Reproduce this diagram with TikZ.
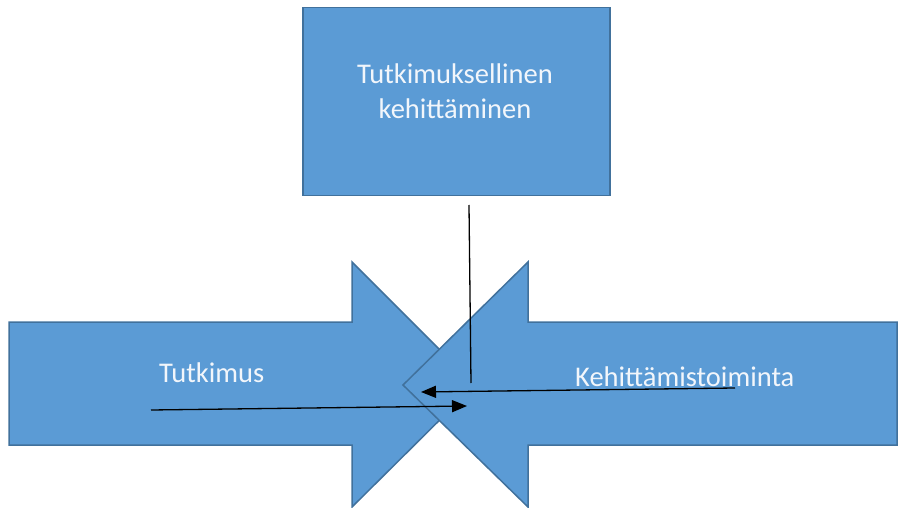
\documentclass[tikz,border=0pt]{standalone}
\usepackage{fontspec}
\setmainfont{Carlito}
\usetikzlibrary{arrows.meta}
\definecolor{officeblue}{HTML}{5B9BD5}
\definecolor{officeedge}{HTML}{41719C}
\definecolor{labelwhite}{HTML}{F2F6FB}
\tikzset{
  shapefill/.style={fill=officeblue, draw=officeedge, line width=1.5pt, line join=miter},
  lbl/.style={text=labelwhite, font=\fontsize{28.5}{35}\selectfont, inner sep=0pt, align=center},
  conn/.style={draw=black, line width=1.3pt},
  tip/.style={-{Triangle[length=15pt,width=12pt]}}
}
\begin{document}
\begin{tikzpicture}[x=1pt,y=-1pt]
\useasboundingbox (0,0) rectangle (898,508);
% top box
\node[shapefill, minimum width=307pt, minimum height=188pt, anchor=north west, inner sep=0pt] (box) at (302,7) {};
\node[lbl] (boxtext) at (455,91) {Tutkimuksellinen\\kehittäminen};
% left arrow
\path[shapefill] (9,322) -- (352,322) -- (352,262) -- (475,385) -- (352,507) -- (352,445) -- (9,445) -- cycle;
% right arrow
\path[shapefill] (897,322) -- (528,322) -- (528,262) -- (403,385) -- (528,507) -- (528,445) -- (897,445) -- cycle;
\node[lbl, anchor=base west] (tut) at (159,382) {Tutkimus};
\node[lbl, anchor=base west] (keh) at (575,386) {Kehittämistoiminta};
% connector end points
\coordinate (vtop) at (469,205);
\coordinate (vbot) at (471,383);
\coordinate (rstart) at (735,388);
\coordinate (rend) at (421,392);
\coordinate (lstart) at (151,410);
\coordinate (lend) at (467,406);
\draw[conn] (vtop) -- (vbot);
\draw[conn, tip] (rstart) -- (rend);
\draw[conn, tip] (lstart) -- (lend);
\end{tikzpicture}
\end{document}
